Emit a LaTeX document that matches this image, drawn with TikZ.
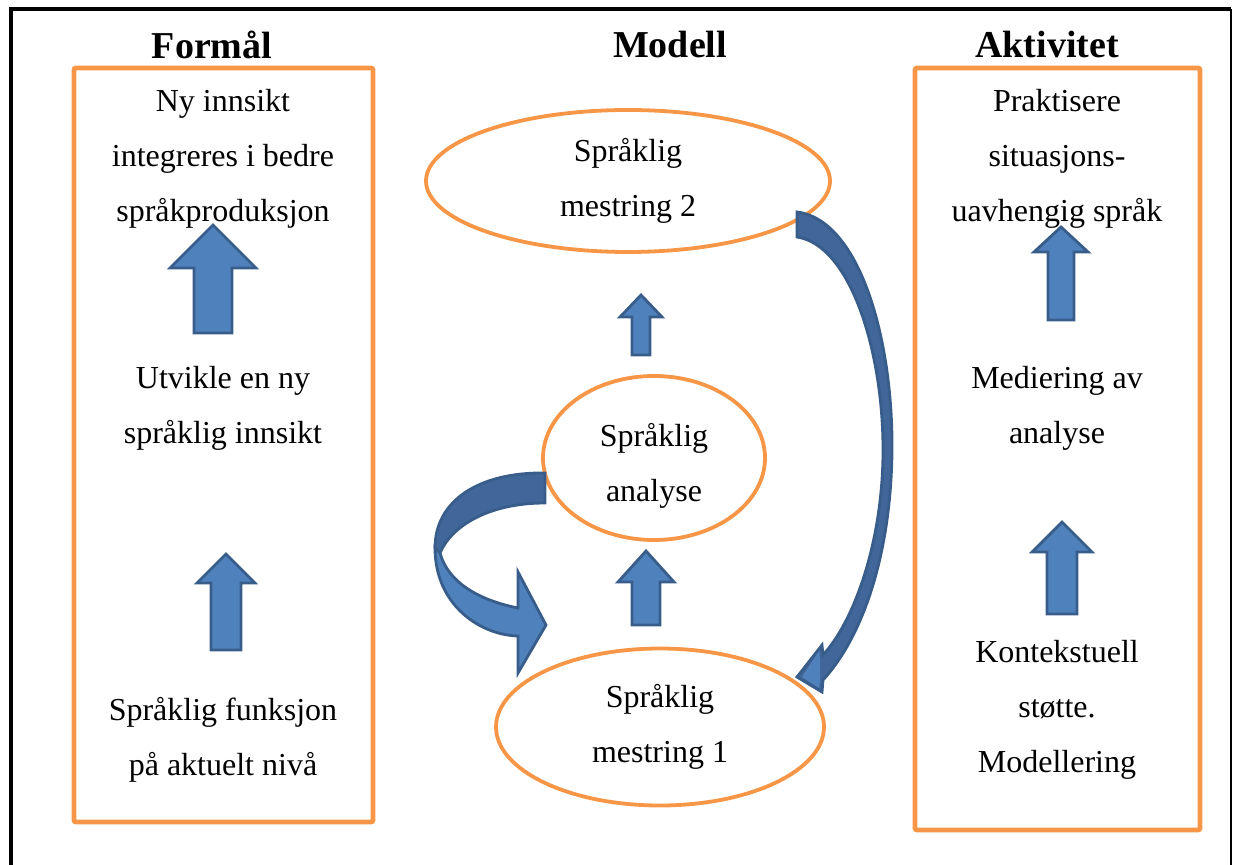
\documentclass[tikz,border=0pt]{standalone}
\usepackage{fontspec}
\setmainfont{Liberation Serif}
\usetikzlibrary{shapes.geometric}
\definecolor{boxorange}{HTML}{F79646}
\definecolor{arrowblue}{HTML}{4F81BD}
\definecolor{arrowedge}{HTML}{385D8A}
\definecolor{arrowdark}{HTML}{41679A}
\begin{document}
\begin{tikzpicture}[x=0.5pt,y=-0.5pt,
  heading/.style={font=\fontsize{19}{23}\selectfont\bfseries},
  txt/.style={align=center,font=\fontsize{16}{27.5}\selectfont},
  column/.style={draw=boxorange,line width=2.4pt,rounded corners=1pt},
  oval/.style={ellipse,draw=boxorange,line width=1.9pt,inner sep=0pt,align=center,font=\fontsize{16}{27.5}\selectfont},
  blockarrow/.style={fill=arrowblue,draw=arrowedge,line width=1.4pt,line join=miter}]
\useasboundingbox (0,0) rectangle (1235,865);
\newcommand{\blockup}[6]{% x, tip, foot, head half width, shaft half width, head base
\draw[blockarrow] (#1-#5,#3)--(#1-#5,#6)--(#1-#4,#6)--(#1,#2)--(#1+#4,#6)--(#1+#5,#6)--(#1+#5,#3)--cycle;}
% frame
\draw[line width=2.2pt] (11,865)--(11,9)--(1231,9);
\draw[line width=0.8pt] (1231,9)--(1231,865);
% headings
\node[heading] (hformal) at (212,45) {Formål};
\node[heading] (hmodell) at (670,45) {Modell};
\node[heading] (haktiv) at (1047,45) {Aktivitet};
% columns
\draw[column] (74,68) rectangle (373,822);
\draw[column] (915,68) rectangle (1200,830);
\node[txt] (f3) at (223,159) {Ny innsikt\\integreres i bedre\\språkproduksjon};
\node[txt] (f2) at (223,408) {Utvikle en ny\\språklig innsikt};
\node[txt] (f1) at (223,740) {Språklig funksjon\\på aktuelt nivå};
\node[txt] (a3) at (1057,159) {Praktisere\\situasjons-\\uavhengig språk};
\node[txt] (a2) at (1057,408) {Mediering av\\analyse};
\node[txt] (a1) at (1057,710) {Kontekstuell\\støtte.\\Modellering};
\blockup{213}{225}{333}{43}{19}{268}
\blockup{226}{554}{650}{29}{15}{583}
\blockup{1061}{227}{320}{27}{13}{252}
\blockup{1062}{522}{614}{30}{15}{552}
% model
\node[oval,minimum width=202pt,minimum height=71pt] (m2) at (628,181) {Språklig\\mestring 2};
\node[oval,minimum width=111pt,minimum height=82pt] (an) at (654,458) {};
\node[txt] (antxt) at (654,466) {Språklig\\analyse};
\node[oval,minimum width=164pt,minimum height=78.5pt] (m1) at (660,727) {Språklig\\mestring 1};
\blockup{641}{295}{355}{21}{9}{317}
\blockup{646}{551}{625}{28}{14}{582}
% curved arrow analyse -> mestring 1
\draw[blockarrow,fill=arrowdark] (545,473) .. controls (480,472) and (435,500) .. (435,548)
  -- (440,553) .. controls (452,525) and (490,503) .. (545,503) -- cycle;
\draw[blockarrow] (435,548) .. controls (435,605) and (480,635) .. (518,636) -- (518,673) -- (546,625)
  -- (518,572) -- (518,608) .. controls (478,600) and (448,582) .. (440,553) -- cycle;
% curved arrow mestring 2 -> mestring 1
\draw[blockarrow,fill=arrowdark] (797,212) .. controls (860,220) and (893,340) .. (892,450)
  .. controls (891,560) and (860,640) .. (823,680) -- (822,692) -- (797,677) -- (822,645)
  -- (823,655) .. controls (855,620) and (883,540) .. (883,450)
  .. controls (883,350) and (850,245) .. (797,237) -- cycle;
\fill[arrowblue] (820,681) -- (819,688) -- (802,677) -- (819,651) -- (820,658) -- cycle;
\end{tikzpicture}
\end{document}
